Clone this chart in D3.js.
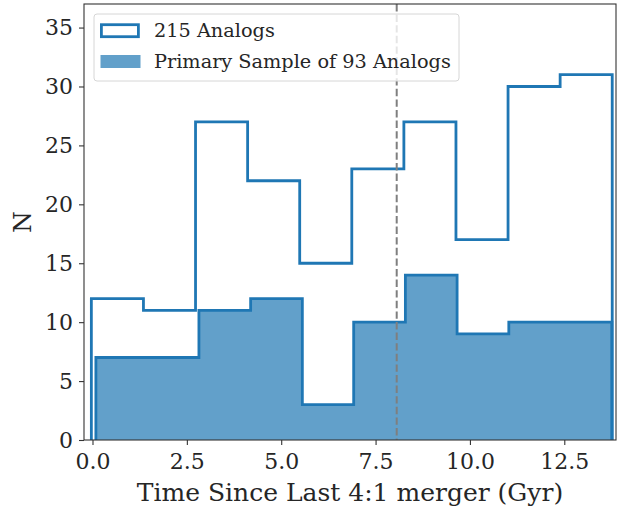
<!DOCTYPE html>
<html>
<head>
<meta charset="utf-8">
<script src="https://cdn.jsdelivr.net/npm/d3@7"></script>
<style>
  body { margin: 0; background: #fff; }
  text { font-family: "DejaVu Serif", serif; fill: #262626; }
</style>
</head>
<body>
<svg id="chart"></svg>
<script>
// bin edges and counts
const edges215 = [-0.03, 1.35, 2.73, 4.11, 5.49, 6.87, 8.25, 9.63, 11.01, 12.39, 13.77];
const counts215 = [12, 11, 27, 22, 15, 23, 27, 17, 30, 31];
const edgesPrimary = [0.09, 1.46, 2.82, 4.19, 5.56, 6.92, 8.29, 9.66, 11.03, 12.39, 13.76];
const countsPrimary = [7, 7, 11, 12, 3, 10, 14, 9, 10, 10];
const mergerLine = 8.06;
const xTicks = [0, 2.5, 5, 7.5, 10, 12.5];
const yTicks = [0, 5, 10, 15, 20, 25, 30, 35];
const legendLabels = ["215 Analogs", "Primary Sample of 93 Analogs"];

let width = 619;
let height = 510;
let margin = {"top": 4, "bottom": 70, "left": 84, "right": 3};
let blue = "#1f77b4";

let svg = d3.select("#chart")
    .attr("width", width)
    .attr("height", height);

let x = d3.scaleLinear()
    .domain([-0.225, 13.87])
    .range([margin.left, width - margin.right]);
let y = d3.scaleLinear()
    .domain([0, 37])
    .range([height - margin.bottom, margin.top]);

// turn edges + counts into the outline of a step histogram
function stepPoints(edges, counts) {
    let pts = [[edges[0], 0]];
    counts.forEach(function(c, i) {
        pts.push([edges[i], c]);
        pts.push([edges[i + 1], c]);
    });
    pts.push([edges[edges.length - 1], 0]);
    return pts;
}

let line = d3.line()
    .x((d) => x(d[0]))
    .y((d) => y(d[1]));

let plot = svg.append("g");

// primary sample, filled
plot.append("path")
    .attr("d", line(stepPoints(edgesPrimary, countsPrimary)) + "Z")
    .style("fill", blue)
    .style("fill-opacity", 0.7)
    .style("stroke", "none");
plot.append("path")
    .attr("d", line(stepPoints(edgesPrimary, countsPrimary)))
    .style("fill", "none")
    .style("stroke", blue)
    .style("stroke-width", 2.8)
    .style("stroke-linejoin", "miter");

// all analogs, outline only
plot.append("path")
    .attr("d", line(stepPoints(edges215, counts215)))
    .style("fill", "none")
    .style("stroke", blue)
    .style("stroke-width", 2.8)
    .style("stroke-linejoin", "miter");

// last merger marker
plot.append("line")
    .attr("x1", x(mergerLine))
    .attr("x2", x(mergerLine))
    .attr("y1", y(37))
    .attr("y2", y(0))
    .style("stroke", "#7f7f7f")
    .style("stroke-width", 2)
    .style("stroke-dasharray", "7.4,3.2");

// axes
let xAxis = svg.append("g")
    .attr("transform", `translate(0,${height - margin.bottom})`)
    .call(d3.axisBottom(x).tickValues(xTicks).tickFormat(d3.format(".1f")).tickSize(5).tickSizeOuter(0));
let yAxis = svg.append("g")
    .attr("transform", `translate(${margin.left},0)`)
    .call(d3.axisLeft(y).tickValues(yTicks).tickFormat(d3.format("d")).tickSize(5).tickSizeOuter(0));

[xAxis, yAxis].forEach(function(a) {
    a.select(".domain").remove();
    a.selectAll(".tick line").style("stroke", "#333").style("stroke-width", 1.1);
    a.selectAll(".tick text")
        .style("font-family", "DejaVu Serif")
        .style("font-size", "22px")
        .style("fill", "#262626");
});
xAxis.selectAll(".tick text").attr("dy", "0").attr("y", 29);
yAxis.selectAll(".tick text").attr("x", -11);

// frame
svg.append("rect")
    .attr("x", margin.left)
    .attr("y", margin.top)
    .attr("width", width - margin.left - margin.right)
    .attr("height", height - margin.top - margin.bottom)
    .style("fill", "none")
    .style("stroke", "#333")
    .style("stroke-width", 1.1);

// axis titles
svg.append("text")
    .attr("x", (margin.left + width - margin.right) / 2)
    .attr("y", 501)
    .style("text-anchor", "middle")
    .style("font-size", "25px")
    .text("Time Since Last 4:1 merger (Gyr)");
svg.append("text")
    .attr("transform", `translate(31,${(margin.top + height - margin.bottom) / 2}) rotate(-90)`)
    .style("text-anchor", "middle")
    .style("font-size", "25px")
    .text("N");

// legend
let legend = svg.append("g").attr("transform", "translate(94,14)");
legend.append("rect")
    .attr("width", 365)
    .attr("height", 67)
    .attr("rx", 3)
    .style("fill", "#fff")
    .style("fill-opacity", 0.8)
    .style("stroke", "#d6d6d6")
    .style("stroke-width", 1);
legend.append("rect")
    .attr("x", 7.4)
    .attr("y", 10.7)
    .attr("width", 37)
    .attr("height", 12)
    .style("fill", "none")
    .style("stroke", blue)
    .style("stroke-width", 2.8);
legend.append("rect")
    .attr("x", 6.5)
    .attr("y", 41)
    .attr("width", 40)
    .attr("height", 13)
    .style("fill", blue)
    .style("fill-opacity", 0.7);
legend.selectAll("text.lab")
    .data(legendLabels)
    .enter().append("text")
    .attr("class", "lab")
    .attr("x", 60)
    .attr("y", (d, i) => 23 + i * 30.5)
    .style("font-size", "19.3px")
    .text((d) => d);
</script>
</body>
</html>
